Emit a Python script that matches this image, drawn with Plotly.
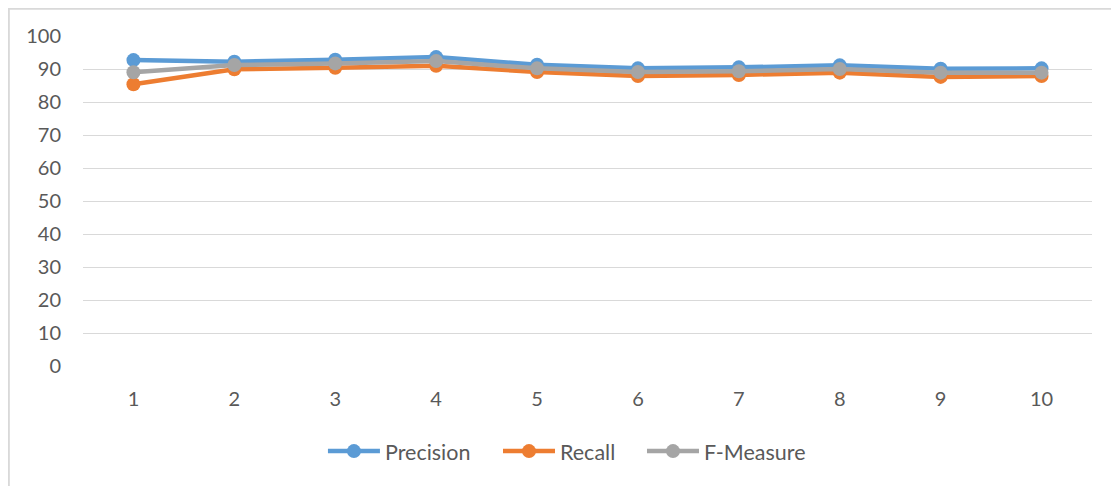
import plotly.graph_objects as go

categories = [1, 2, 3, 4, 5, 6, 7, 8, 9, 10]
precision = [92.7, 92.2, 92.8, 93.6, 91.3, 90.2, 90.5, 91.1, 90.1, 90.2]
recall = [85.4, 89.9, 90.4, 91.0, 89.1, 87.9, 88.2, 88.9, 87.6, 87.9]
f_measure = [89.0, 91.2, 91.7, 92.4, 90.2, 89.1, 89.3, 90.0, 88.9, 88.9]
y_ticks = [0, 10, 20, 30, 40, 50, 60, 70, 80, 90, 100]

series = [
    ("Precision", precision, "#5B9BD5", "legend", 0.2378),
    ("Recall", recall, "#ED7D31", "legend2", 0.4113),
    ("F-Measure", f_measure, "#A5A5A5", "legend3", 0.5540),
]

fig = go.Figure()
legends = {}
for name, vals, col, leg, lx in series:
    fig.add_trace(go.Scatter(
        x=[str(c) for c in categories], y=vals, name=name, mode="lines+markers",
        line=dict(color=col, width=4.5),
        marker=dict(color=col, size=14),
        legend=leg,
    ))
    legends[leg] = dict(orientation="h", x=lx, xanchor="left", y=-0.258, yanchor="middle",
                        font=dict(size=21.5, color="#595959"), itemwidth=52,
                        bgcolor="rgba(0,0,0,0)", borderwidth=0)

fig.update_layout(
    width=1111, height=478,
    margin=dict(l=75, r=27, t=28, b=120),
    paper_bgcolor="white", plot_bgcolor="white",
    font=dict(family="Lato, Carlito, sans-serif", size=20, color="#595959"),
    xaxis=dict(type="category", showgrid=False, zeroline=False, showline=False,
               ticks="", tickfont=dict(size=20, color="#595959"),
               range=[-0.5, 9.5], ticklabelstandoff=19),
    yaxis=dict(range=[0, 100], tickvals=y_ticks, showgrid=True,
               gridcolor="#D9D9D9", gridwidth=1.3, zeroline=False, showline=False,
               ticks="", ticklabelstandoff=21,
               tickfont=dict(size=20, color="#595959")),
    showlegend=True,
    **legends,
)
fig.add_shape(type="rect", xref="paper", yref="paper",
              x0=-0.0735, x1=1.04, y0=-0.4, y1=1.0826,
              line=dict(color="#D9D9D9", width=2), fillcolor="rgba(0,0,0,0)", layer="above")

fig.write_html("out.html")
